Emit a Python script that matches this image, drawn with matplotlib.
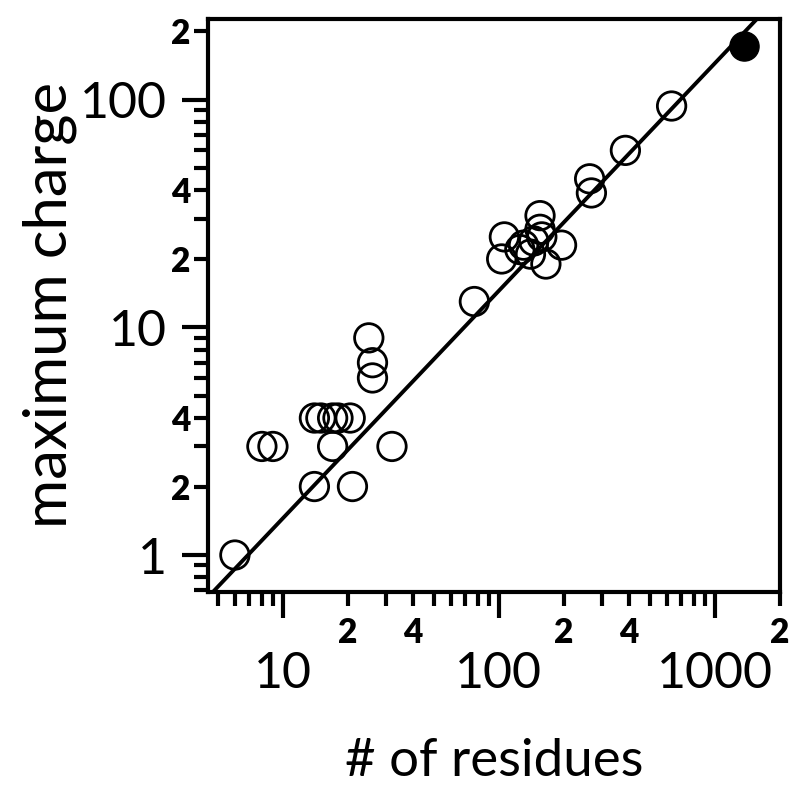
import numpy as np
import matplotlib
matplotlib.use('Agg')
import matplotlib.pyplot as plt
from matplotlib.ticker import FixedLocator, FixedFormatter

# data
residues = [6, 8, 9, 14, 15, 17, 18, 20.5, 17, 14, 21, 32, 25, 26, 26,
            77, 106, 103, 125, 130, 140, 145, 155, 155, 158, 165, 195,
            263, 268, 385, 630]
charge = [1, 3, 3, 4, 4, 4, 4, 4, 3, 2, 2, 3, 9, 7, 6,
          13, 25, 20, 22, 23, 21, 24, 31, 27, 25, 19, 23,
          45, 39, 60, 94]
big_res = [1360]
big_charge = [172]

# power law fit: charge = a * residues**b
fit_a = 0.145
fit_b = 1.0

xlim = (4.52, 2000)
ylim = (0.69, 226)

plt.rcParams['font.family'] = ['Lato', 'DejaVu Sans']

fig = plt.figure(figsize=(8, 7.88), dpi=100)
ax = fig.add_axes([0.2604, 0.2491, 0.7146, 0.7264])
ax.set_xscale('log')
ax.set_yscale('log')

xx = np.array(xlim)
ax.plot(xx, fit_a * xx ** fit_b, color='k', lw=2.8, zorder=1)
ax.scatter(residues, charge, s=420, facecolors='none', edgecolors='k', linewidths=2.0, zorder=2)
ax.scatter(big_res, big_charge, s=440, color='k', zorder=3)

ax.set_xlim(*xlim)
ax.set_ylim(*ylim)

def minor_ticks(lo, hi):
    locs = []
    for d in [0.1, 1, 10, 100, 1000]:
        for m in range(2, 10):
            v = m * d
            if lo <= v <= hi:
                locs.append(v)
    return locs

def minor_labels(locs):
    out = []
    for v in locs:
        m = v / 10 ** np.floor(np.log10(v) + 1e-9)
        out.append(str(int(round(m))) if round(m) in (2, 4) else '')
    return out

xmaj = [10, 100, 1000]
ymaj = [1, 10, 100]
xmin_locs = minor_ticks(*xlim)
ymin_locs = minor_ticks(*ylim)

ax.xaxis.set_major_locator(FixedLocator(xmaj))
ax.xaxis.set_major_formatter(FixedFormatter(['10', '100', '1000']))
ax.yaxis.set_major_locator(FixedLocator(ymaj))
ax.yaxis.set_major_formatter(FixedFormatter(['1', '10', '100']))
ax.xaxis.set_minor_locator(FixedLocator(xmin_locs))
ax.xaxis.set_minor_formatter(FixedFormatter(minor_labels(xmin_locs)))
ax.yaxis.set_minor_locator(FixedLocator(ymin_locs))
ax.yaxis.set_minor_formatter(FixedFormatter(minor_labels(ymin_locs)))

for s in ax.spines.values():
    s.set_linewidth(3)

ax.tick_params(which='both', direction='out', width=3, top=False, right=False)
ax.tick_params(which='major', length=19, labelsize=36)
ax.tick_params(which='minor', length=10, labelsize=24)
ax.tick_params(axis='x', which='major', pad=24)
ax.tick_params(axis='x', which='minor', pad=8)
ax.tick_params(axis='y', which='major', pad=11)
ax.tick_params(axis='y', which='minor', pad=3)

for t in ax.xaxis.get_minor_ticks() + ax.yaxis.get_minor_ticks():
    t.label1.set_fontweight('heavy')

fig.text(0.6175, 0.034, '# of residues', fontsize=38, ha='center', va='center')
fig.text(0.0625, 0.613, 'maximum charge', fontsize=43, rotation=90, ha='center', va='center')

fig.savefig('out.png', dpi=100)
